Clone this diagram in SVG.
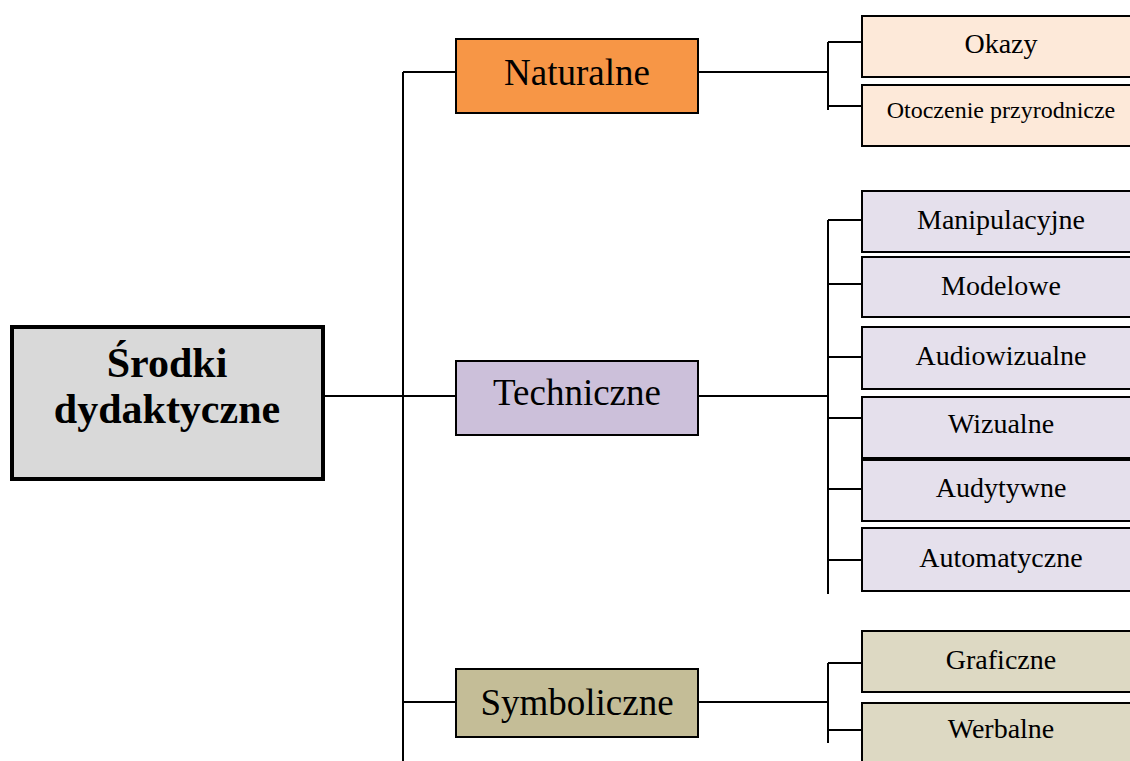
<svg xmlns="http://www.w3.org/2000/svg" width="1130" height="761" viewBox="0 0 1130 761">
<style>
.ln{stroke:#000;stroke-width:2;fill:none}
.bx{stroke:#000;stroke-width:2}
.t{font-family:"Liberation Serif","Times New Roman",serif;fill:#000;text-anchor:middle}
.cat{font-size:37px}
.sub{font-size:28px}
.nat{fill:#f79646}.natS{fill:#fde9d9}
.tec{fill:#ccc0da}.tecS{fill:#e5e0ec}
.sym{fill:#c4bd97}.symS{fill:#ddd9c3}
</style>
<rect width="1130" height="761" fill="#fff"/>
<g id="connectors">
<path class="ln" d="M403 72V761M403 72H456M325 396H456M403 702H456"/>
<path class="ln" d="M698 72H828M828 42V110M828 42H862M828 106H862"/>
<path class="ln" d="M698 396H828M828 220V594M828 220H862M828 284H862M828 357H862M828 418H862M828 489H862M828 560H862"/>
<path class="ln" d="M698 702H828M828 663V743M828 663H862M828 730H862"/>
</g>
<g id="root">
<rect x="12" y="327" width="311" height="152" fill="#d9d9d9" stroke="#000" stroke-width="4"/>
<text class="t" x="167" y="377" font-size="42" font-weight="bold">Środki</text>
<text class="t" x="167" y="423" font-size="42" font-weight="bold">dydaktyczne</text>
</g>
<g id="naturalne">
<rect class="bx nat" x="456" y="39" width="242" height="74"/>
<text class="t cat" x="577" y="85">Naturalne</text>
</g>
<g id="techniczne">
<rect class="bx tec" x="456" y="361" width="242" height="74"/>
<text class="t cat" x="577" y="405">Techniczne</text>
</g>
<g id="symboliczne">
<rect class="bx sym" x="456" y="669" width="242" height="68"/>
<text class="t cat" x="577" y="715">Symboliczne</text>
</g>
<g id="okazy">
<rect class="bx natS" x="862" y="16" width="290" height="61"/>
<text class="t sub" x="1001" y="53">Okazy</text>
</g>
<g id="otoczenie">
<rect class="bx natS" x="862" y="85" width="290" height="61"/>
<text class="t" x="1001" y="118" font-size="24">Otoczenie przyrodnicze</text>
</g>
<g id="manipulacyjne">
<rect class="bx tecS" x="862" y="191" width="290" height="61"/>
<text class="t sub" x="1001" y="229">Manipulacyjne</text>
</g>
<g id="modelowe">
<rect class="bx tecS" x="862" y="257" width="290" height="60"/>
<text class="t sub" x="1001" y="295">Modelowe</text>
</g>
<g id="audiowizualne">
<rect class="bx tecS" x="862" y="327" width="290" height="62"/>
<text class="t sub" x="1001" y="365">Audiowizualne</text>
</g>
<g id="wizualne">
<rect class="bx tecS" x="862" y="397" width="290" height="61"/>
<text class="t sub" x="1001" y="433">Wizualne</text>
</g>
<g id="audytywne">
<rect class="bx tecS" x="862" y="460" width="290" height="61" stroke-width="3"/>
<text class="t sub" x="1001" y="497">Audytywne</text>
</g>
<g id="automatyczne">
<rect class="bx tecS" x="862" y="528" width="290" height="63"/>
<text class="t sub" x="1001" y="567">Automatyczne</text>
</g>
<g id="graficzne">
<rect class="bx symS" x="862" y="631" width="290" height="61"/>
<text class="t sub" x="1001" y="669">Graficzne</text>
</g>
<g id="werbalne">
<rect class="bx symS" x="862" y="703" width="290" height="72"/>
<text class="t sub" x="1001" y="738">Werbalne</text>
</g>
</svg>
